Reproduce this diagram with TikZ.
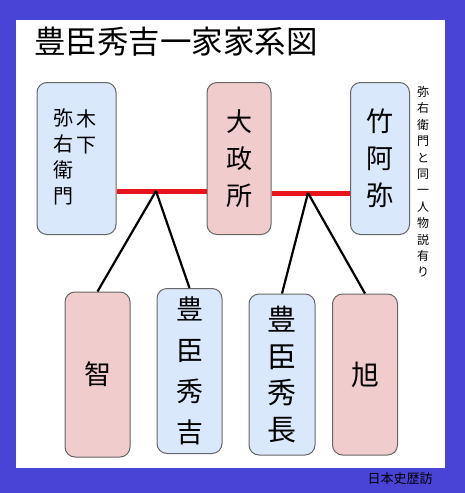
\documentclass[tikz,border=0pt]{standalone}
\usepackage{fontspec}
\newfontfamily\jp{Noto Sans CJK JP}
\definecolor{bgblue}{HTML}{4A44D6}
\definecolor{bluefill}{HTML}{DAE8FC}
\definecolor{redfill}{HTML}{F0CCCC}
\definecolor{boxline}{HTML}{666666}
\definecolor{kinred}{HTML}{E8141C}
\tikzset{
  person/.style={draw=boxline, line width=1pt, rounded corners=10pt, inner sep=0pt},
  bluebox/.style={person, fill=bluefill},
  redbox/.style={person, fill=redfill},
  vtext/.style={align=center, inner sep=0pt},
  marriage/.style={draw=kinred, line width=5pt},
  child/.style={draw=black, line width=2.2pt},
}
\begin{document}
\begin{tikzpicture}[x=1pt,y=-1pt]
\useasboundingbox (0,0) rectangle (465,493);
\fill[bgblue] (0,0) rectangle (465,493);
\fill[white] (16,20) rectangle (445,468);

\node[anchor=west, inner sep=0pt, font=\jp\fontsize{31.5}{31.5}\selectfont] (title) at (34,42) {豊臣秀吉一家家系図};

% top row
\node[bluebox, minimum width=79pt, minimum height=152pt] (yae) at (76.5,158.5) {};
\node[vtext, font=\jp\fontsize{20}{26}\selectfont] (yaeA) at (63,157) {弥\\右\\衛\\門};
\node[vtext, font=\jp\fontsize{20}{26}\selectfont] (yaeB) at (86,131.5) {木\\下};

\node[redbox, minimum width=64pt, minimum height=152pt, vtext, font=\jp\fontsize{26}{37}\selectfont] (oman) at (239,158.5) {大\\政\\所};
\node[bluebox, minimum width=59pt, minimum height=152pt, vtext, font=\jp\fontsize{27}{37}\selectfont] (chiku) at (380,158.5) {竹\\阿\\弥};

\node[vtext, font=\jp\fontsize{12}{16.4}\selectfont] (note) at (423,182) {弥\\右\\衛\\門\\と\\同\\一\\人\\物\\説\\有\\り};

% bottom row
\node[redbox, minimum width=65pt, minimum height=165pt, font=\jp\fontsize{27}{27}\selectfont] (tomo) at (97.5,374.5) {智};
\node[bluebox, minimum width=65pt, minimum height=165pt, vtext, font=\jp\fontsize{27}{41}\selectfont] (hideyoshi) at (189.5,371) {豊\\臣\\秀\\吉};
\node[bluebox, minimum width=66pt, minimum height=161pt, vtext, font=\jp\fontsize{29}{36.7}\selectfont] (hidenaga) at (282,374.5) {豊\\臣\\秀\\長};
\node[redbox, minimum width=65pt, minimum height=161pt, font=\jp\fontsize{28}{28}\selectfont] (asahi) at (365,374.5) {旭};

\node[inner sep=0pt, font=\jp\fontsize{13}{13}\selectfont] (credit) at (400,479) {日本史歴訪};

% connectors
\coordinate (j1) at (156,191);
\coordinate (j2) at (308,193);
\draw[marriage] (yae.east |- j1) -- (oman.west |- j1);
\draw[marriage] (oman.east |- j2) -- (chiku.west |- j2);
\draw[child] (j1) -- (tomo.north);
\draw[child] (j1) -- (hideyoshi.north);
\draw[child] (j2) -- (hidenaga.north);
\draw[child] (j2) -- (asahi.north);
\end{tikzpicture}
\end{document}
